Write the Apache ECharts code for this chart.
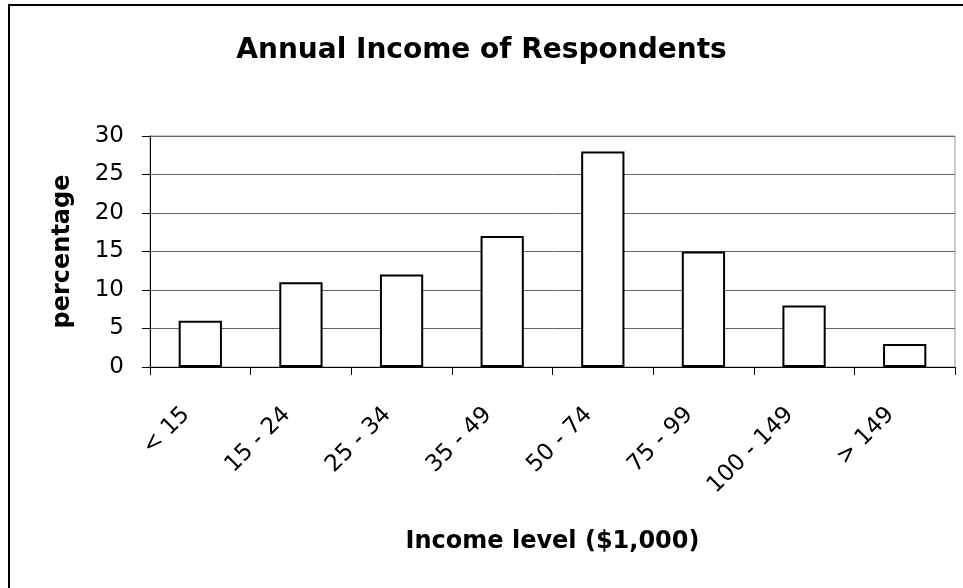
<!DOCTYPE html>
<html>
<head>
<meta charset="utf-8">
<script src="https://cdn.jsdelivr.net/npm/echarts@6/dist/echarts.min.js"></script>
<style>html,body{margin:0;padding:0;background:#fff;}#c{width:963px;height:588px;}</style>
</head>
<body>
<div id="c"></div>
<script>
const categories = ['< 15', '15 - 24', '25 - 34', '35 - 49', '50 - 74', '75 - 99', '100 - 149', '> 149'];
const percentages = [6, 11, 12, 17, 28, 15, 8, 3];
const yTicks = { min: 0, max: 30, interval: 5 };

const chart = echarts.init(document.getElementById('c'), null, { renderer: 'canvas' });
const FONT = 'DejaVu Sans';
chart.setOption({
  animation: false,
  backgroundColor: '#fff',
  title: {
    text: 'Annual Income of Respondents',
    left: 'center',
    top: 32,
    textStyle: { fontFamily: FONT, fontSize: 28, fontWeight: 'bold', color: '#000' }
  },
  graphic: [{
    type: 'rect',
    shape: { x: 9, y: 5, width: 1000, height: 700 },
    style: { fill: 'none', stroke: '#000', lineWidth: 2 },
    silent: true
  }],
  grid: {
    left: 150, right: 8, top: 136, bottom: 221,
    show: true, borderColor: '#999', borderWidth: 1, backgroundColor: 'transparent'
  },
  xAxis: {
    type: 'category',
    data: categories,
    name: 'Income level ($1,000)',
    nameLocation: 'middle',
    nameGap: 163,
    nameTextStyle: { fontFamily: FONT, fontSize: 24, fontWeight: 'bold', color: '#000' },
    axisLine: { lineStyle: { color: '#000', width: 1 } },
    axisTick: { show: true, length: 8, lineStyle: { color: '#000' } },
    axisLabel: { rotate: 45, margin: 30, padding: [0, 20, 0, 0], fontFamily: FONT, fontSize: 23, color: '#000', interval: 0 },
    splitLine: { show: false }
  },
  yAxis: {
    type: 'value',
    min: yTicks.min, max: yTicks.max, interval: yTicks.interval,
    name: 'percentage',
    nameLocation: 'middle',
    nameGap: 75,
    nameTextStyle: { fontFamily: FONT, fontSize: 24, fontWeight: 'bold', color: '#000' },
    axisLine: { show: true, lineStyle: { color: '#000', width: 1 } },
    axisTick: { show: true, length: 8, lineStyle: { color: '#000' } },
    axisLabel: { margin: 26, fontFamily: FONT, fontSize: 23, color: '#000' },
    splitLine: { show: true, lineStyle: { color: '#666', width: 1 } }
  },
  series: [{
    type: 'bar',
    data: percentages,
    barWidth: '43%',
    itemStyle: { color: '#fff', borderColor: '#000', borderWidth: 2 }
  }]
});
</script>
</body>
</html>
